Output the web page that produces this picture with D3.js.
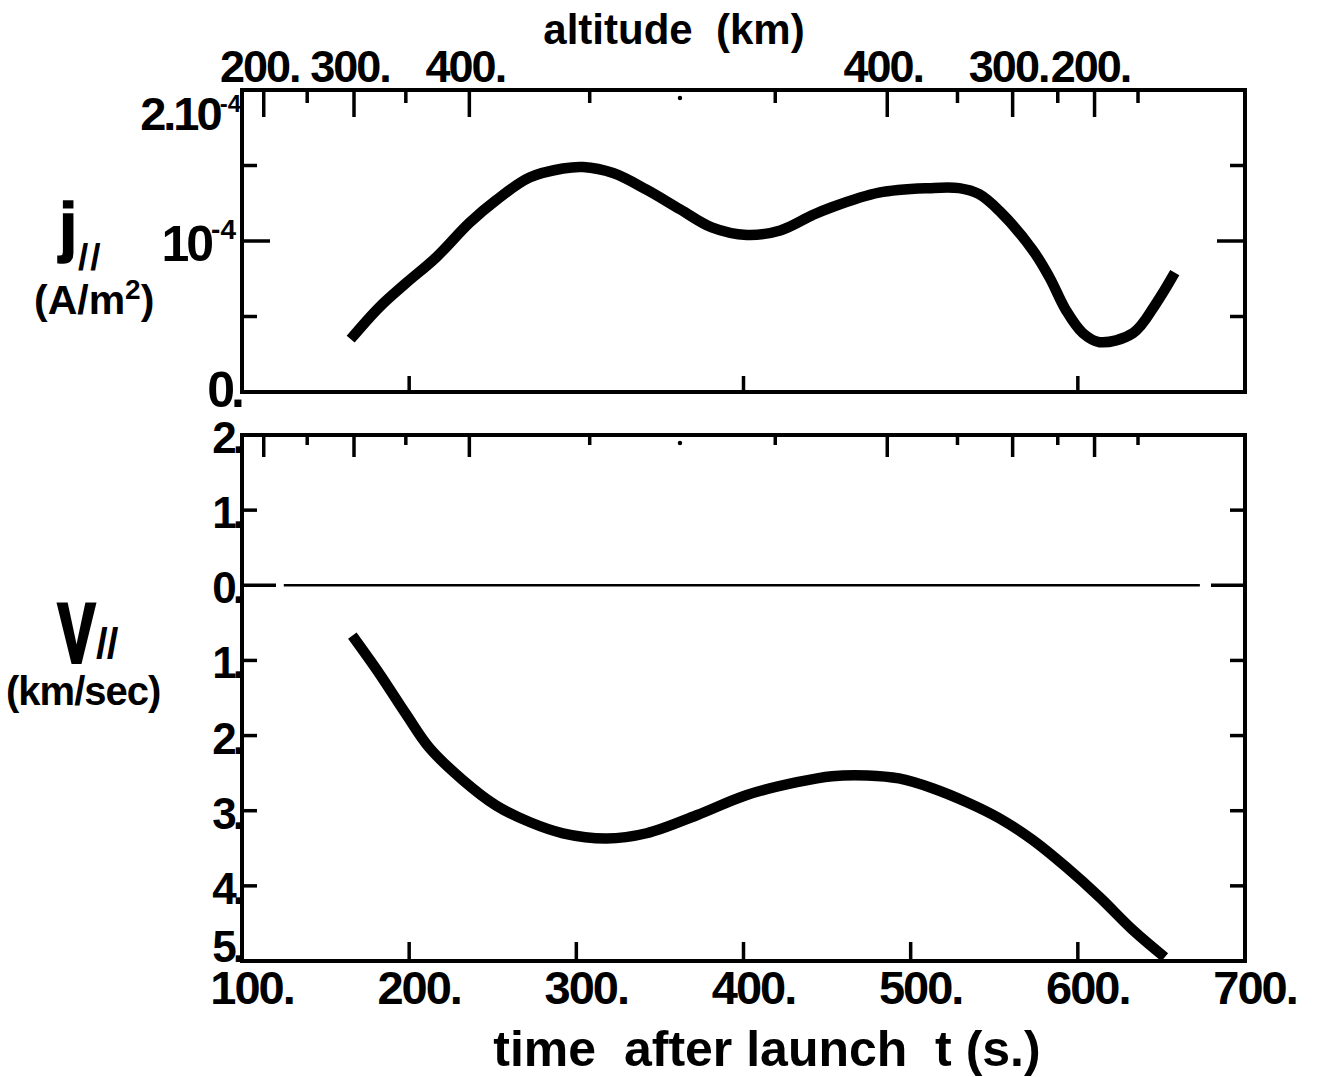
<!DOCTYPE html>
<html>
<head>
<meta charset="utf-8">
<script src="https://cdn.jsdelivr.net/npm/d3@7"></script>
<style>
  body { margin: 0; background: #fff; }
  text { font-family: "Liberation Sans", Arial, sans-serif; font-weight: bold; fill: #000; }
</style>
</head>
<body>
<div id="chart"></div>
<script>
// time after launch (s) and current density j// (units of 1e-4 A/m2)
var jTime = [165, 182, 198, 216, 236, 252, 272, 292, 304, 322, 342, 362, 381, 402, 422, 441, 452, 481, 511, 529, 541, 553, 573, 583, 593, 603, 613, 633, 647, 658];
var jValue = [0.35, 0.56, 0.72, 0.89, 1.12, 1.27, 1.42, 1.48, 1.49, 1.45, 1.34, 1.21, 1.09, 1.04, 1.07, 1.17, 1.22, 1.32, 1.35, 1.35, 1.31, 1.2, 0.94, 0.76, 0.54, 0.39, 0.33, 0.39, 0.59, 0.79];

// time after launch (s) and parallel velocity V// (km/sec, downward negative)
var vTime = [166, 182, 198, 212, 232, 252, 272, 292, 318, 342, 372, 402, 432, 453, 474, 493, 513, 534, 553, 573, 593, 613, 633, 652];
var vValue = [-0.67, -1.17, -1.71, -2.16, -2.59, -2.93, -3.15, -3.3, -3.37, -3.3, -3.06, -2.79, -2.62, -2.54, -2.53, -2.57, -2.7, -2.89, -3.1, -3.39, -3.75, -4.15, -4.59, -4.95];

// altitude ticks along the trajectory (time where the rocket crosses that altitude)
var altMajorTime = [113, 167, 236, 486, 561, 610];
var altMajorLabel = ["200.", "300.", "400.", "400.", "300.", "200."];
var altMinorTime = [139, 198, 308, 419, 528, 588, 636];
var apogeeTime = [362];

var timeTicks = [200, 300, 400, 500, 600];
var timeTicksTop = [200, 400, 600];
var timeLabels = [100, 200, 300, 400, 500, 600, 700];
var jTicksMinor = [0.5, 1.5];
var vTicksLabels = [2, 1, 0, -1, -2, -3, -4, -5];
var vTicksInner = [1, -1, -2, -3, -4];
var zeroLineSpan = [125, 673];

var width = 1323, height = 1077;
var svg = d3.select("#chart").append("svg")
	.attr("width", width)
	.attr("height", height);

var x = d3.scaleLinear().domain([100, 700]).range([242, 1245]);
var yJ = d3.scaleLinear().domain([0, 2]).range([392, 90]);
var yV = d3.scaleLinear().domain([2, -5]).range([435, 961]);

var frameW = 4, tickW = 3.5;

function frame(yTop, yBot) {
	svg.append("rect")
		.attr("x", x(100))
		.attr("y", yTop)
		.attr("width", x(700) - x(100))
		.attr("height", yBot - yTop)
		.attr("fill", "none")
		.attr("stroke", "#000")
		.attr("stroke-width", frameW);
}

function vtick(t, y0, len) {
	svg.append("line")
		.attr("x1", x(t)).attr("x2", x(t))
		.attr("y1", y0).attr("y2", y0 + len)
		.attr("stroke", "#000")
		.attr("stroke-width", tickW);
}

function htick(y, len) {
	svg.append("line")
		.attr("x1", x(100)).attr("x2", x(100) + len)
		.attr("y1", y).attr("y2", y)
		.attr("stroke", "#000").attr("stroke-width", tickW);
	svg.append("line")
		.attr("x1", x(700)).attr("x2", x(700) - len)
		.attr("y1", y).attr("y2", y)
		.attr("stroke", "#000").attr("stroke-width", tickW);
}

function altitudeTicks(yTop, major, minor) {
	altMajorTime.forEach(function(t) { vtick(t, yTop, major); });
	altMinorTime.forEach(function(t) { vtick(t, yTop, minor); });
	apogeeTime.forEach(function(t) {
		svg.append("circle")
			.attr("cx", x(t)).attr("cy", yTop + 8)
			.attr("r", 2.2).attr("fill", "#000");
	});
}

// ---- top panel: j//
frame(yJ(2), yJ(0));
altitudeTicks(yJ(2), 27, 13);
timeTicksTop.forEach(function(t) { vtick(t, yJ(0), -16); });
htick(yJ(1), 28);
jTicksMinor.forEach(function(v) { htick(yJ(v), 15); });

var jLine = d3.line()
	.x(function(d, i) { return x(jTime[i]); })
	.y(function(d) { return yJ(d); })
	.curve(d3.curveCatmullRom.alpha(0.5));

svg.append("path")
	.datum(jValue)
	.attr("d", jLine)
	.attr("fill", "none")
	.attr("stroke", "#000")
	.attr("stroke-width", 10.5);

// altitude labels
svg.append("text")
	.attr("x", 674).attr("y", 44)
	.attr("text-anchor", "middle")
	.style("font-size", "42px")
	.attr("xml:space", "preserve")
	.text("altitude  (km)");

altMajorTime.forEach(function(t, i) {
	svg.append("text")
		.attr("x", x(t) - 4).attr("y", 82)
		.attr("text-anchor", "middle")
		.style("font-size", "45px")
		.style("letter-spacing", "-2px")
		.text(altMajorLabel[i]);
});

// j axis labels
var lab2 = svg.append("text")
	.attr("x", 241).attr("y", 130)
	.attr("text-anchor", "end")
	.style("font-size", "47px")
	.style("letter-spacing", "-3px");
lab2.append("tspan").text("2.10");
lab2.append("tspan").attr("dy", -18).style("font-size", "24px").style("letter-spacing", "0px").text("-4");

var lab1 = svg.append("text")
	.attr("x", 236).attr("y", yJ(1) + 20)
	.attr("text-anchor", "end")
	.style("font-size", "50px")
	.style("letter-spacing", "-3px");
lab1.append("tspan").text("10");
lab1.append("tspan").attr("dy", -22).style("font-size", "28px").style("letter-spacing", "0px").text("-4");

svg.append("text")
	.attr("x", 241).attr("y", yJ(0) + 15)
	.attr("text-anchor", "end")
	.style("font-size", "50px")
	.style("letter-spacing", "-4px")
	.text("0.");

svg.append("text")
	.attr("x", 59).attr("y", 249)
	.style("font-size", "66px")
	.style("stroke", "#000")
	.style("stroke-width", "1.5px")
	.text("j");
svg.append("text")
	.attr("x", 78).attr("y", 270)
	.style("font-size", "37px")
	.style("letter-spacing", "2px")
	.text("//");
var unitJ = svg.append("text")
	.attr("x", 34).attr("y", 314)
	.style("font-size", "41px");
unitJ.append("tspan").text("(A/m");
unitJ.append("tspan").attr("dy", -15).style("font-size", "28px").text("2");
unitJ.append("tspan").attr("dy", 15).text(")");

// ---- bottom panel: V//
frame(yV(2), yV(-5));
altitudeTicks(yV(2), 22, 10);
timeTicks.forEach(function(t) { vtick(t, yV(-5), -19); });
vTicksInner.forEach(function(v) { htick(yV(v), 15); });
htick(yV(0), 34);

svg.append("line")
	.attr("x1", x(zeroLineSpan[0])).attr("x2", x(zeroLineSpan[1]))
	.attr("y1", yV(0)).attr("y2", yV(0))
	.attr("stroke", "#000")
	.attr("stroke-width", 2.5);

var vLine = d3.line()
	.x(function(d, i) { return x(vTime[i]); })
	.y(function(d) { return yV(d); })
	.curve(d3.curveCatmullRom.alpha(0.5));

svg.append("path")
	.datum(vValue)
	.attr("d", vLine)
	.attr("fill", "none")
	.attr("stroke", "#000")
	.attr("stroke-width", 10.5);

vTicksLabels.forEach(function(v) {
	svg.append("text")
		.attr("x", 241).attr("y", Math.min(yV(v) + 18, yV(-5) + 1))
		.attr("text-anchor", "end")
		.style("font-size", "44px")
		.style("letter-spacing", "-4px")
		.text(Math.abs(v) + ".");
});

svg.append("text")
	.attr("transform", "translate(58,662) scale(0.66,1)")
	.style("font-size", "84px")
	.style("stroke", "#000")
	.style("stroke-width", "4px")
	.text("V");
svg.append("text")
	.attr("x", 96).attr("y", 658)
	.style("font-size", "42px")
	.style("letter-spacing", "-1px")
	.text("//");
svg.append("text")
	.attr("x", 6).attr("y", 705)
	.style("font-size", "40px")
	.style("letter-spacing", "-1px")
	.text("(km/sec)");

// time axis
timeLabels.forEach(function(t) {
	svg.append("text")
		.attr("x", x(t) + 10).attr("y", 1004)
		.attr("text-anchor", "middle")
		.style("font-size", "47px")
		.style("letter-spacing", "-2px")
		.text(t + ".");
});

svg.append("text")
	.attr("x", 767).attr("y", 1066)
	.attr("text-anchor", "middle")
	.attr("xml:space", "preserve")
	.style("font-size", "50px")
	.text("time  after launch  t (s.)");
</script>
</body>
</html>
